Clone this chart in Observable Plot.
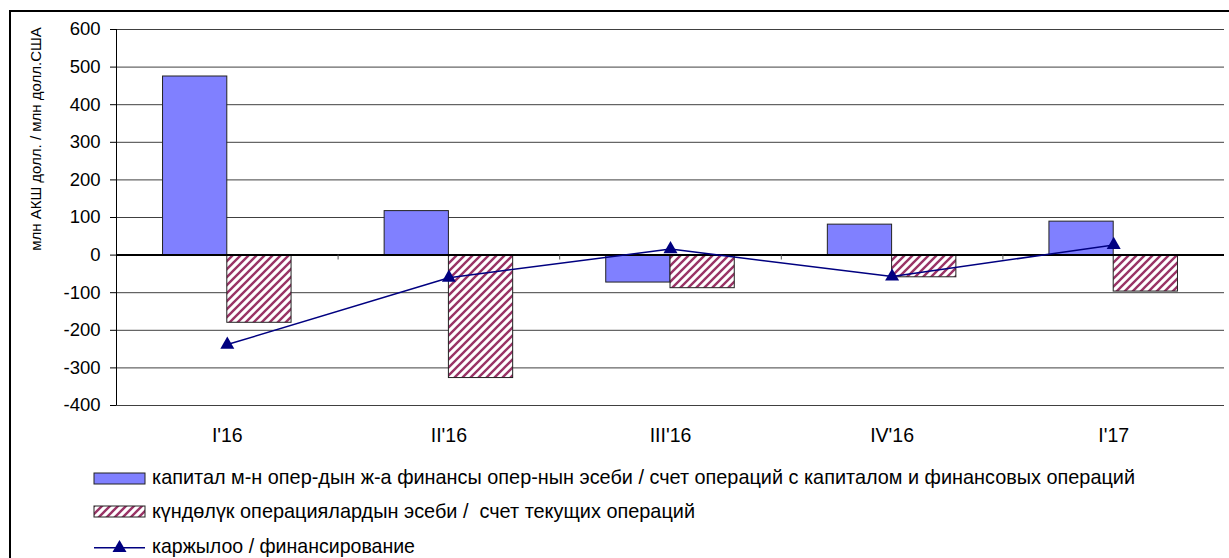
<!DOCTYPE html>
<html><head><meta charset="utf-8">
<script src="https://cdn.jsdelivr.net/npm/d3@7"></script>
<script src="https://cdn.jsdelivr.net/npm/@observablehq/plot@0.6"></script>
<style>
body{margin:0;background:#fff;font-family:"Liberation Sans",Arial,sans-serif;}
#wrap{position:relative;width:1229px;height:558px;overflow:hidden;background:#fff;}
#frame{position:absolute;left:9px;top:10px;width:1300px;height:700px;border:2px solid #000;box-sizing:border-box;}
#chart{position:absolute;left:0;top:0;}
#overlay{position:absolute;left:0;top:0;}
</style></head><body>
<div id="wrap"><div id="frame"></div><div id="chart"></div><svg id="overlay" width="1229" height="558"></svg></div>
<script>
const quarters = ["I'16", "II'16", "III'16", "IV'16", "I'17"];
const capital = [475, 117, -73, 81, 89];
const current = [-180, -327, -88, -59, -97];
const financing = [-238, -60, 16, -57, 27];
const yTicks = d3.range(-400, 601, 100);
const seriesNames = [
  "капитал м-н опер-дын ж-а финансы опер-нын эсеби / счет операций с капиталом и финансовых операций",
  "күндөлүк операциялардын эсеби /  счет текущих операций",
  "каржылоо / финансирование"
];
const yTitle = "млн АКШ долл. / млн долл.США";

const FONT = '"Liberation Sans", Arial, sans-serif';
const BLUE = "#8080FF", PLUM = "#993366", NAVY = "#000080";

const rows = quarters.map((q, i) => ({i, q, capital: capital[i], current: current[i], financing: financing[i]}));
const W = 0.29;

const ov = d3.select("#overlay");
const defs = ov.append("defs");
const pat = defs.append("pattern").attr("id", "hatch").attr("patternUnits", "userSpaceOnUse")
  .attr("width", 8).attr("height", 8);
pat.append("rect").attr("width", 8).attr("height", 8).attr("fill", "#fff");
pat.append("path").attr("d", "M-2,2L2,-2M0,8L8,0M6,10L10,6").attr("stroke", PLUM).attr("stroke-width", 2.4);

const plot = Plot.plot({
  width: 1229, height: 455,
  marginLeft: 116, marginRight: 5, marginTop: 29, marginBottom: 50,
  style: {fontFamily: FONT, fontSize: "18px", color: "#000", background: "transparent", overflow: "visible"},
  x: {type: "linear", domain: [-0.5, quarters.length - 0.5]},
  y: {domain: [-400, 600]},
  marks: [
    Plot.gridY(yTicks, {stroke: "#404040", strokeOpacity: 1, strokeWidth: 1}),
    Plot.rect(rows, {x1: d => d.i - W, x2: d => d.i, y1: 0, y2: "capital", fill: BLUE, stroke: "#222", strokeWidth: 1}),
    Plot.rect(rows, {x1: d => d.i, x2: d => d.i + W, y1: 0, y2: "current", fill: "url(#hatch)", stroke: "#222", strokeWidth: 1}),
    Plot.ruleY([0], {stroke: "#000", strokeWidth: 2}),
    Plot.ruleX(d3.range(1, quarters.length).map(k => k - 0.5), {y1: 0, y2: -13, stroke: "#555"}),
    Plot.ruleX([-0.5], {stroke: "#000", strokeWidth: 1}),
    Plot.axisY(yTicks, {tickSize: 6, tickPadding: 10, fontSize: 18.5, label: null, tickFormat: d => String(d)}),
    Plot.axisX(d3.range(quarters.length), {tickSize: 0, tickPadding: 23, tickFormat: i => quarters[i], fontSize: 19.5, label: null}),
    Plot.line(rows, {x: "i", y: "financing", stroke: NAVY, strokeWidth: 1.5}),
    Plot.dot(rows, {x: "i", y: "financing", symbol: "triangle", r: 5.2, fill: NAVY, stroke: "none"})
  ]
});
document.getElementById("chart").appendChild(plot);

ov.append("text").attr("transform", "translate(35,139) rotate(-90)")
  .attr("text-anchor", "middle").attr("dominant-baseline", "central")
  .attr("font-family", FONT).attr("font-size", 15).attr("fill", "#000").text(yTitle);

const lg = ov.append("g").attr("font-family", FONT).attr("font-size", 19.8).attr("fill", "#000");
lg.append("rect").attr("x", 94).attr("y", 473).attr("width", 51).attr("height", 11).attr("fill", BLUE).attr("stroke", "#222");
lg.append("rect").attr("x", 94).attr("y", 506).attr("width", 51).attr("height", 11).attr("fill", "url(#hatch)").attr("stroke", "#222");
lg.append("line").attr("x1", 94).attr("x2", 145).attr("y1", 547.7).attr("y2", 547.7).attr("stroke", NAVY).attr("stroke-width", 1.5);
lg.append("path").attr("d", d3.symbol(d3.symbolTriangle, 5.2 * 5.2 * Math.PI)()).attr("transform", "translate(119.5,548)").attr("fill", NAVY);
const lens = [983, 543, 263];
[483.5, 517.5, 552.5].forEach((y, k) => {
  lg.append("text").attr("x", 152).attr("y", y).style("white-space", "pre")
    .attr("textLength", lens[k]).attr("lengthAdjust", "spacingAndGlyphs").text(seriesNames[k]);
});
</script>
</body></html>
